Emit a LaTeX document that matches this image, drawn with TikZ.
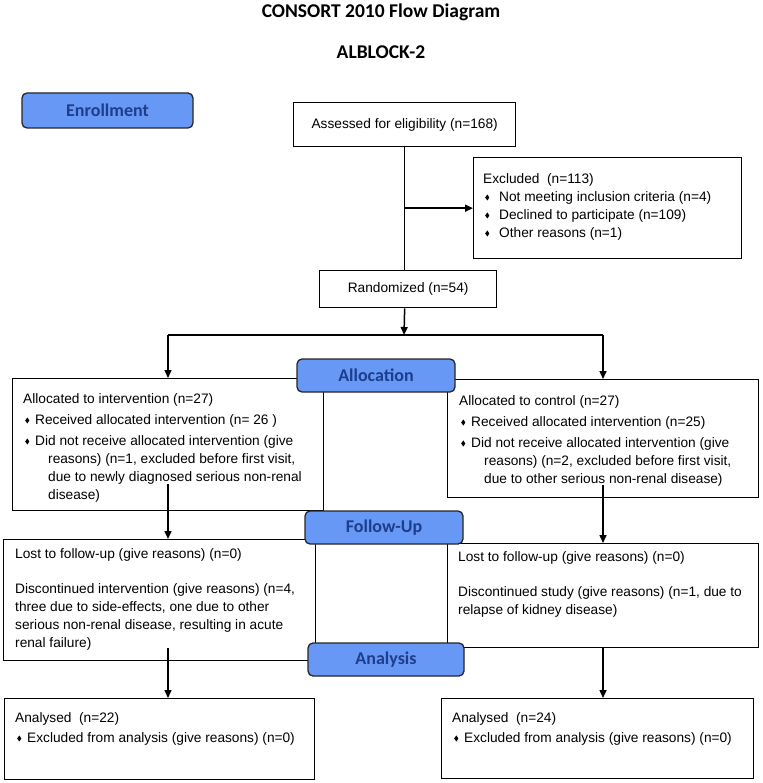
\documentclass[tikz,border=0pt]{standalone}
\usepackage{fontspec}
\setmainfont{Liberation Sans}
\newfontfamily\carlito{Carlito}
\usetikzlibrary{arrows.meta,calc}
\definecolor{lblfill}{RGB}{104,152,245}
\definecolor{lbltext}{RGB}{28,62,140}
\newcommand\dmd{\raisebox{0.6pt}{\scalebox{0.9}[1.3]{\rotatebox{45}{\rule{3.3pt}{3.3pt}}}}}
\newcommand\bitem[2][9pt]{\hspace*{2pt}\makebox[#1][l]{\dmd}#2}
\newcommand\contl{\hspace*{25pt}}
\begin{document}
\begin{tikzpicture}[x=1pt,y=-1pt,
  box/.style={draw=black,line width=1.3pt,fill=white,anchor=north west,inner sep=0pt,
    font=\fontsize{13.7}{18}\selectfont},
  txt/.style={anchor=north west,inner sep=0pt,align=left,font=\fontsize{13.7}{18}\selectfont},
  lbl/.style={draw=black!85,line width=1.3pt,fill=lblfill,rounded corners=5pt,text=lbltext,
    font=\carlito\bfseries\fontsize{18}{20}\selectfont,inner sep=0pt},
  ttl/.style={font=\carlito\bfseries\fontsize{19.5}{22}\selectfont,inner sep=0pt},
  conn/.style={line width=1.5pt},
  arr/.style={line width=1.5pt,-{Triangle[length=8pt,width=7pt]}}]
\useasboundingbox (0,0) rectangle (762,783);

% titles
\node[ttl] (title) at (381,12) {CONSORT 2010 Flow Diagram};
\node[ttl] (trial) at (381,52) {ALBLOCK-2};

% boxes
\node[box,minimum width=222pt,minimum height=44pt] (assess) at (293,102) {Assessed for eligibility (n=168)};
\node[box,minimum width=268pt,minimum height=101pt] (excl) at (473,157) {};
\node[box,minimum width=177pt,minimum height=37pt] (rand) at (319,270) {Randomized (n=54)};
\node[box,minimum width=311pt,minimum height=132pt] (allocL) at (12,378) {};
\node[box,minimum width=311pt,minimum height=118pt] (allocR) at (447,379) {};
\node[box,minimum width=312pt,minimum height=121pt] (fuL) at (3,539) {};
\node[box,minimum width=311pt,minimum height=104pt] (fuR) at (447,543) {};
\node[box,minimum width=310pt,minimum height=81pt] (anL) at (4,698) {};
\node[box,minimum width=312pt,minimum height=80pt] (anR) at (441,698) {};

% box texts
\node[txt] (exclt) at (483,173) {Excluded\ \ (n=113)\\
  \bitem[14pt]{Not meeting inclusion criteria (n=4)}\\
  \bitem[14pt]{Declined to participate (n=109)}\\
  \bitem[14pt]{Other reasons (n=1)}};
\node[txt] (allocLt) at (23,393) {Allocated to intervention (n=27)\\[3pt]
  \bitem[10pt]{Received allocated intervention (n= 26 )}\\[3pt]
  \bitem[10pt]{Did not receive allocated intervention (give}\\
  \contl reasons) (n=1, excluded before first visit,\\
  \contl due to newly diagnosed serious non-renal\\
  \contl disease)};
\node[txt] (allocRt) at (459,395) {Allocated to control (n=27)\\[3pt]
  \bitem[10pt]{Received allocated intervention (n=25)}\\[3pt]
  \bitem[10pt]{Did not receive allocated intervention (give}\\
  \contl reasons) (n=2, excluded before first visit,\\
  \contl due to other serious non-renal disease)};
\node[txt] (fuLt) at (15,548) {Lost to follow-up (give reasons) (n=0)\\[17pt]
  Discontinued intervention (give reasons) (n=4,\\
  three due to side-effects, one due to other\\
  serious non-renal disease, resulting in acute\\
  renal failure)};
\node[txt] (fuRt) at (458,551) {Lost to follow-up (give reasons) (n=0)\\[17pt]
  Discontinued study (give reasons) (n=1, due to\\
  relapse of kidney disease)};
\node[txt] (anLt) at (15,712) {Analysed\ \ (n=22)\\[2pt]
  \bitem[10pt]{Excluded from analysis (give reasons) (n=0)}};
\node[txt] (anRt) at (452,712) {Analysed\ \ (n=24)\\[2pt]
  \bitem[10pt]{Excluded from analysis (give reasons) (n=0)}};

% connectors
\coordinate (bx) at (assess.south |- excl.west);
\coordinate (split) at (404,335);
\coordinate (sL) at (168,335);
\coordinate (sR) at (603,335);
\coordinate (aL) at (168,484);
\coordinate (aR) at (603,485);
\coordinate (fL) at (168,648);
\coordinate (fR) at (603,647);
\draw[conn] (assess.south) -- (assess.south |- rand.north);
\draw[arr] (bx) -- (excl.west);
\draw[arr] (assess.south |- rand.south) -- (split);
\draw[conn] (sL) -- (sR);
\draw[arr] (sL) -- (sL |- allocL.north);
\draw[arr] (sR) -- (sR |- allocR.north);
\draw[arr] (aL) -- (aL |- fuL.north);
\draw[arr] (aR) -- (aR |- fuR.north);
\draw[arr] (fL) -- (fL |- anL.north);
\draw[arr] (fR) -- (fR |- anR.north);

% stage labels
\node[lbl,minimum width=171pt,minimum height=35pt] (enroll) at (107.5,110.5) {Enrollment};
\node[lbl,minimum width=158pt,minimum height=33pt] (alloc) at (376,375.5) {Allocation};
\node[lbl,minimum width=158pt,minimum height=33pt] (follow) at (384,527.5) {Follow-Up};
\node[lbl,minimum width=156pt,minimum height=33pt] (analysis) at (386,659.5) {Analysis};
\end{tikzpicture}
\end{document}
